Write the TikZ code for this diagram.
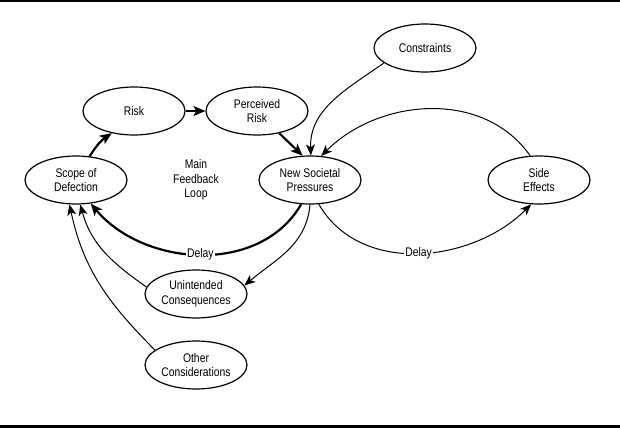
\documentclass[tikz,border=0pt]{standalone}
\usepackage{fontspec}
\setmainfont{Liberation Sans}[FakeStretch=0.83]
\usetikzlibrary{shapes.geometric,arrows.meta}
\begin{document}
\begin{tikzpicture}[x=1pt,y=1pt,
 box/.style={draw, ellipse, line width=1.2pt, minimum width=102pt, minimum height=48pt, inner sep=0pt, align=center},
 conn/.style={line width=1pt, -{Stealth[length=11pt,width=9pt,inset=3pt]}},
 heavy/.style={line width=2.2pt, -{Stealth[length=12pt,width=10pt,inset=3pt]}},
 lbl/.style={fill=white, inner sep=1.5pt},
 font=\fontsize{12.5}{14.5}\selectfont]
\useasboundingbox (0,0) rectangle (620,-428);
\fill (0,0) rectangle (620,-2.5);
\fill (0,-425) rectangle (620,-428);

\node[box] (cons) at (425,-48) {Constraints};
\node[box] (risk) at (134,-111) {Risk};
\node[box] (perc) at (257,-111) {Perceived\\Risk};
\node[box] (scope) at (76,-180) {Scope of\\Defection};
\node[box] (nsp) at (310,-180) {New Societal\\Pressures};
\node[box] (side) at (539,-180) {Side\\Effects};
\node[box] (unint) at (196,-294) {Unintended\\Consequences};
\node[box] (other) at (196,-365) {Other\\Considerations};
\node[align=center] (main) at (196,-180) {Main\\Feedback\\Loop};

\draw[heavy] (scope.60) to[bend left=12] (risk.225);
\draw[heavy] (risk.east) -- (perc.west);
\draw[heavy] (perc.-45) -- (nsp.107);
\draw[conn] (cons.200) to[out=215,in=92] (nsp.88);
\draw[conn] (side.110) to[out=125,in=45] (nsp.65);
\draw[heavy] (nsp.250) to[out=240,in=-50,looseness=1.0] node[lbl]{Delay} (scope.-58);
\draw[conn] (nsp.270) to[out=265,in=40] (unint.10);
\draw[conn] (nsp.-70) to[out=-60,in=225,looseness=1.0] node[lbl]{Delay} (side.-108);
\draw[conn] (unint.172) to[out=145,in=-75] (scope.-80);
\draw[conn] (other.160) to[out=135,in=-78] (scope.-105);
\end{tikzpicture}
\end{document}
